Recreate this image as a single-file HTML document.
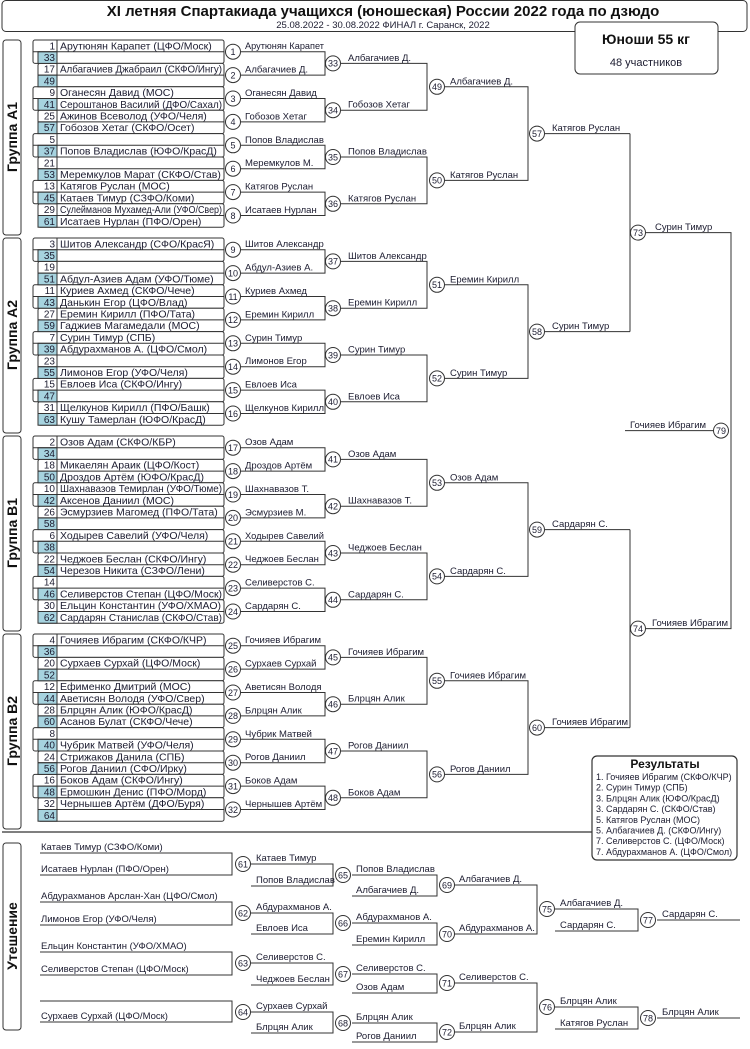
<!DOCTYPE html>
<html><head><meta charset="utf-8">
<style>
html,body{margin:0;padding:0;background:#fff;}
svg{display:block;font-family:"Liberation Sans",sans-serif;}
text{fill:#1c1c30;}
.nm{font-size:10.5px;}
.num{font-size:10px;text-anchor:end;}
.cn{font-size:9px;text-anchor:middle;}
.lb{font-size:9.5px;}
.gl{font-size:14px;font-weight:bold;text-anchor:middle;fill:#111;}
</style></head><body>
<svg id="s" width="750" height="1049" viewBox="0 0 750 1049" xmlns="http://www.w3.org/2000/svg">
<defs>
<g id="grid" fill="#fff" stroke="#333" stroke-width="1">
<rect x="3" y="0" width="18" height="195" rx="3"/>
<rect x="33" y="0" width="191" height="23.4" rx="2"/>
<rect x="38" y="23.4" width="186" height="23.4" rx="2"/>
<rect x="33" y="46.8" width="191" height="23.4" rx="2"/>
<rect x="38" y="70.2" width="186" height="23.4" rx="2"/>
<rect x="33" y="93.6" width="191" height="23.4" rx="2"/>
<rect x="38" y="117" width="186" height="23.4" rx="2"/>
<rect x="33" y="140.4" width="191" height="23.4" rx="2"/>
<rect x="38" y="163.8" width="186" height="23.4" rx="2"/>
<g fill="#a6d3df">
<rect x="38" y="11.7" width="19" height="11.7"/><rect x="38" y="35.1" width="19" height="11.7"/>
<rect x="38" y="58.5" width="19" height="11.7"/><rect x="38" y="81.9" width="19" height="11.7"/>
<rect x="38" y="105.3" width="19" height="11.7"/><rect x="38" y="128.7" width="19" height="11.7"/>
<rect x="38" y="152.1" width="19" height="11.7"/><rect x="38" y="175.5" width="19" height="11.7"/>
</g>
<path fill="none" d="M33 11.7H224M38 35.1H224M33 58.5H224M38 81.9H224M33 105.3H224M38 128.7H224M33 152.1H224M38 175.5H224M57 0V187.2"/>
<path fill="none" d="M241 11.7H325V35.1H241M241 58.5H325V81.9H241M241 105.3H325V128.7H241M241 152.1H325V175.5H241
M341 23.4H427V70.2H341M341 117H427V163.8H341M445 46.8H528V140.4H445M545 93.6H630"/>
<circle cx="233" cy="11.7" r="7.5"/><circle cx="233" cy="35.1" r="7.5"/><circle cx="233" cy="58.5" r="7.5"/><circle cx="233" cy="81.9" r="7.5"/>
<circle cx="233" cy="105.3" r="7.5"/><circle cx="233" cy="128.7" r="7.5"/><circle cx="233" cy="152.1" r="7.5"/><circle cx="233" cy="175.5" r="7.5"/>
<circle cx="333" cy="23.4" r="7.5"/><circle cx="333" cy="70.2" r="7.5"/><circle cx="333" cy="117" r="7.5"/><circle cx="333" cy="163.8" r="7.5"/>
<circle cx="437" cy="46.8" r="7.5"/><circle cx="437" cy="140.4" r="7.5"/><circle cx="537" cy="93.6" r="7.5"/>
</g>
</defs>

<rect x="2" y="0.5" width="745" height="31" rx="4" fill="#fff" stroke="#333"/>
<text x="383" y="16" text-anchor="middle" style="font-size:15px;font-weight:bold;fill:#111">XI летняя Спартакиада учащихся (юношеская) России 2022 года по дзюдо</text>
<text x="383" y="28" text-anchor="middle" style="font-size:9.5px">25.08.2022 - 30.08.2022 ФИНАЛ г. Саранск, 2022</text>
<rect x="575" y="22" width="143" height="52" rx="5" fill="#fff" stroke="#333"/>
<text x="646" y="44" text-anchor="middle" style="font-size:14px;font-weight:bold;fill:#111">Юноши 55 кг</text>
<text x="646" y="66" text-anchor="middle" style="font-size:11px">48 участников</text>

<g transform="translate(0,40)">
<use href="#grid"/>
<text class="gl" transform="translate(17,97) rotate(-90)">Группа A1</text>
<text class="num" x="55" y="9.3">1</text><text class="num" x="55" y="21">33</text><text class="num" x="55" y="32.7">17</text><text class="num" x="55" y="44.4">49</text>
<text class="num" x="55" y="56.1">9</text><text class="num" x="55" y="67.8">41</text><text class="num" x="55" y="79.5">25</text><text class="num" x="55" y="91.2">57</text>
<text class="num" x="55" y="102.9">5</text><text class="num" x="55" y="114.6">37</text><text class="num" x="55" y="126.3">21</text><text class="num" x="55" y="138">53</text>
<text class="num" x="55" y="149.7">13</text><text class="num" x="55" y="161.4">45</text><text class="num" x="55" y="173.1">29</text><text class="num" x="55" y="184.8">61</text>
<text class="nm fa" x="60" y="9.3">Арутюнян Карапет (ЦФО/Моск)</text>
<text class="nm fa" x="60" y="32.7">Албагачиев Джабраил (СКФО/Ингу)</text>
<text class="nm fa" x="60" y="56.1">Оганесян Давид (МОС)</text>
<text class="nm fa" x="60" y="67.8">Сероштанов Василий (ДФО/Сахал)</text>
<text class="nm fa" x="60" y="79.5">Ажинов Всеволод (УФО/Челя)</text>
<text class="nm fa" x="60" y="91.2">Гобозов Хетаг (СКФО/Осет)</text>
<text class="nm fa" x="60" y="114.6">Попов Владислав (ЮФО/КрасД)</text>
<text class="nm fa" x="60" y="138">Меремкулов Марат (СКФО/Став)</text>
<text class="nm fa" x="60" y="149.7">Катягов Руслан (МОС)</text>
<text class="nm fa" x="60" y="161.4">Катаев Тимур (СЗФО/Коми)</text>
<text class="nm fa" x="60" y="173.1">Сулейманов Мухамед-Али (УФО/Свер)</text>
<text class="nm fa" x="60" y="184.8">Исатаев Нурлан (ПФО/Орен)</text>
<text class="cn" x="233" y="15">1</text><text class="cn" x="233" y="38.4">2</text><text class="cn" x="233" y="61.8">3</text><text class="cn" x="233" y="85.2">4</text>
<text class="cn" x="233" y="108.6">5</text><text class="cn" x="233" y="132">6</text><text class="cn" x="233" y="155.4">7</text><text class="cn" x="233" y="178.8">8</text>
<text class="cn" x="333" y="26.7">33</text><text class="cn" x="333" y="73.5">34</text><text class="cn" x="333" y="120.3">35</text><text class="cn" x="333" y="167.1">36</text>
<text class="cn" x="437" y="50.1">49</text><text class="cn" x="437" y="143.7">50</text><text class="cn" x="537" y="96.9">57</text>
<text class="lb fb" x="245" y="9.2">Арутюнян Карапет</text><text class="lb fb" x="245" y="32.6">Албагачиев Д.</text>
<text class="lb fb" x="245" y="56">Оганесян Давид</text><text class="lb fb" x="245" y="79.4">Гобозов Хетаг</text>
<text class="lb fb" x="245" y="102.8">Попов Владислав</text><text class="lb fb" x="245" y="126.2">Меремкулов М.</text>
<text class="lb fb" x="245" y="149.6">Катягов Руслан</text><text class="lb fb" x="245" y="173">Исатаев Нурлан</text>
<text class="lb fb" x="348" y="20.9">Албагачиев Д.</text><text class="lb fb" x="348" y="67.7">Гобозов Хетаг</text>
<text class="lb fb" x="348" y="114.5">Попов Владислав</text><text class="lb fb" x="348" y="161.3">Катягов Руслан</text>
<text class="lb fb" x="450" y="44.3">Албагачиев Д.</text><text class="lb fb" x="450" y="137.9">Катягов Руслан</text>
<text class="lb fb" x="552" y="91.1">Катягов Руслан</text>
</g>

<g transform="translate(0,238)">
<use href="#grid"/>
<text class="gl" transform="translate(17,97) rotate(-90)">Группа A2</text>
<text class="num" x="55" y="9.3">3</text><text class="num" x="55" y="21">35</text><text class="num" x="55" y="32.7">19</text><text class="num" x="55" y="44.4">51</text>
<text class="num" x="55" y="56.1">11</text><text class="num" x="55" y="67.8">43</text><text class="num" x="55" y="79.5">27</text><text class="num" x="55" y="91.2">59</text>
<text class="num" x="55" y="102.9">7</text><text class="num" x="55" y="114.6">39</text><text class="num" x="55" y="126.3">23</text><text class="num" x="55" y="138">55</text>
<text class="num" x="55" y="149.7">15</text><text class="num" x="55" y="161.4">47</text><text class="num" x="55" y="173.1">31</text><text class="num" x="55" y="184.8">63</text>
<text class="nm fa" x="60" y="9.3">Шитов Александр (СФО/КрасЯ)</text>
<text class="nm fa" x="60" y="44.4">Абдул-Азиев Адам (УФО/Тюме)</text>
<text class="nm fa" x="60" y="56.1">Куриев Ахмед (СКФО/Чече)</text>
<text class="nm fa" x="60" y="67.8">Данькин Егор (ЦФО/Влад)</text>
<text class="nm fa" x="60" y="79.5">Еремин Кирилл (ПФО/Тата)</text>
<text class="nm fa" x="60" y="91.2">Гаджиев Магамедали (МОС)</text>
<text class="nm fa" x="60" y="102.9">Сурин Тимур (СПБ)</text>
<text class="nm fa" x="60" y="114.6">Абдурахманов А. (ЦФО/Смол)</text>
<text class="nm fa" x="60" y="138">Лимонов Егор (УФО/Челя)</text>
<text class="nm fa" x="60" y="149.7">Евлоев Иса (СКФО/Ингу)</text>
<text class="nm fa" x="60" y="173.1">Щелкунов Кирилл (ПФО/Башк)</text>
<text class="nm fa" x="60" y="184.8">Кушу Тамерлан (ЮФО/КрасД)</text>
<text class="cn" x="233" y="15">9</text><text class="cn" x="233" y="38.4">10</text><text class="cn" x="233" y="61.8">11</text><text class="cn" x="233" y="85.2">12</text>
<text class="cn" x="233" y="108.6">13</text><text class="cn" x="233" y="132">14</text><text class="cn" x="233" y="155.4">15</text><text class="cn" x="233" y="178.8">16</text>
<text class="cn" x="333" y="26.7">37</text><text class="cn" x="333" y="73.5">38</text><text class="cn" x="333" y="120.3">39</text><text class="cn" x="333" y="167.1">40</text>
<text class="cn" x="437" y="50.1">51</text><text class="cn" x="437" y="143.7">52</text><text class="cn" x="537" y="96.9">58</text>
<text class="lb fb" x="245" y="9.2">Шитов Александр</text><text class="lb fb" x="245" y="32.6">Абдул-Азиев А.</text>
<text class="lb fb" x="245" y="56">Куриев Ахмед</text><text class="lb fb" x="245" y="79.4">Еремин Кирилл</text>
<text class="lb fb" x="245" y="102.8">Сурин Тимур</text><text class="lb fb" x="245" y="126.2">Лимонов Егор</text>
<text class="lb fb" x="245" y="149.6">Евлоев Иса</text><text class="lb fb" x="245" y="173">Щелкунов Кирилл</text>
<text class="lb fb" x="348" y="20.9">Шитов Александр</text><text class="lb fb" x="348" y="67.7">Еремин Кирилл</text>
<text class="lb fb" x="348" y="114.5">Сурин Тимур</text><text class="lb fb" x="348" y="161.3">Евлоев Иса</text>
<text class="lb fb" x="450" y="44.3">Еремин Кирилл</text><text class="lb fb" x="450" y="137.9">Сурин Тимур</text>
<text class="lb fb" x="552" y="91.1">Сурин Тимур</text>
</g>

<g transform="translate(0,436)">
<use href="#grid"/>
<text class="gl" transform="translate(17,97) rotate(-90)">Группа B1</text>
<text class="num" x="55" y="9.3">2</text><text class="num" x="55" y="21">34</text><text class="num" x="55" y="32.7">18</text><text class="num" x="55" y="44.4">50</text>
<text class="num" x="55" y="56.1">10</text><text class="num" x="55" y="67.8">42</text><text class="num" x="55" y="79.5">26</text><text class="num" x="55" y="91.2">58</text>
<text class="num" x="55" y="102.9">6</text><text class="num" x="55" y="114.6">38</text><text class="num" x="55" y="126.3">22</text><text class="num" x="55" y="138">54</text>
<text class="num" x="55" y="149.7">14</text><text class="num" x="55" y="161.4">46</text><text class="num" x="55" y="173.1">30</text><text class="num" x="55" y="184.8">62</text>
<text class="nm fa" x="60" y="9.3">Озов Адам (СКФО/КБР)</text>
<text class="nm fa" x="60" y="32.7">Микаелян Араик (ЦФО/Кост)</text>
<text class="nm fa" x="60" y="44.4">Дроздов Артём (ЮФО/КрасД)</text>
<text class="nm fa" x="60" y="56.1">Шахнавазов Темирлан (УФО/Тюме)</text>
<text class="nm fa" x="60" y="67.8">Аксенов Даниил (МОС)</text>
<text class="nm fa" x="60" y="79.5">Эсмурзиев Магомед (ПФО/Тата)</text>
<text class="nm fa" x="60" y="102.9">Ходырев Савелий (УФО/Челя)</text>
<text class="nm fa" x="60" y="126.3">Чеджоев Беслан (СКФО/Ингу)</text>
<text class="nm fa" x="60" y="138">Черезов Никита (СЗФО/Лени)</text>
<text class="nm fa" x="60" y="161.4">Селиверстов Степан (ЦФО/Моск)</text>
<text class="nm fa" x="60" y="173.1">Ельцин Константин (УФО/ХМАО)</text>
<text class="nm fa" x="60" y="184.8">Сардарян Станислав (СКФО/Став)</text>
<text class="cn" x="233" y="15">17</text><text class="cn" x="233" y="38.4">18</text><text class="cn" x="233" y="61.8">19</text><text class="cn" x="233" y="85.2">20</text>
<text class="cn" x="233" y="108.6">21</text><text class="cn" x="233" y="132">22</text><text class="cn" x="233" y="155.4">23</text><text class="cn" x="233" y="178.8">24</text>
<text class="cn" x="333" y="26.7">41</text><text class="cn" x="333" y="73.5">42</text><text class="cn" x="333" y="120.3">43</text><text class="cn" x="333" y="167.1">44</text>
<text class="cn" x="437" y="50.1">53</text><text class="cn" x="437" y="143.7">54</text><text class="cn" x="537" y="96.9">59</text>
<text class="lb fb" x="245" y="9.2">Озов Адам</text><text class="lb fb" x="245" y="32.6">Дроздов Артём</text>
<text class="lb fb" x="245" y="56">Шахнавазов Т.</text><text class="lb fb" x="245" y="79.4">Эсмурзиев М.</text>
<text class="lb fb" x="245" y="102.8">Ходырев Савелий</text><text class="lb fb" x="245" y="126.2">Чеджоев Беслан</text>
<text class="lb fb" x="245" y="149.6">Селиверстов С.</text><text class="lb fb" x="245" y="173">Сардарян С.</text>
<text class="lb fb" x="348" y="20.9">Озов Адам</text><text class="lb fb" x="348" y="67.7">Шахнавазов Т.</text>
<text class="lb fb" x="348" y="114.5">Чеджоев Беслан</text><text class="lb fb" x="348" y="161.3">Сардарян С.</text>
<text class="lb fb" x="450" y="44.3">Озов Адам</text><text class="lb fb" x="450" y="137.9">Сардарян С.</text>
<text class="lb fb" x="552" y="91.1">Сардарян С.</text>
</g>

<g transform="translate(0,634)">
<use href="#grid"/>
<text class="gl" transform="translate(17,97) rotate(-90)">Группа B2</text>
<text class="num" x="55" y="9.3">4</text><text class="num" x="55" y="21">36</text><text class="num" x="55" y="32.7">20</text><text class="num" x="55" y="44.4">52</text>
<text class="num" x="55" y="56.1">12</text><text class="num" x="55" y="67.8">44</text><text class="num" x="55" y="79.5">28</text><text class="num" x="55" y="91.2">60</text>
<text class="num" x="55" y="102.9">8</text><text class="num" x="55" y="114.6">40</text><text class="num" x="55" y="126.3">24</text><text class="num" x="55" y="138">56</text>
<text class="num" x="55" y="149.7">16</text><text class="num" x="55" y="161.4">48</text><text class="num" x="55" y="173.1">32</text><text class="num" x="55" y="184.8">64</text>
<text class="nm fa" x="60" y="9.3">Гочияев Ибрагим (СКФО/КЧР)</text>
<text class="nm fa" x="60" y="32.7">Сурхаев Сурхай (ЦФО/Моск)</text>
<text class="nm fa" x="60" y="56.1">Ефименко Дмитрий (МОС)</text>
<text class="nm fa" x="60" y="67.8">Аветисян Володя (УФО/Свер)</text>
<text class="nm fa" x="60" y="79.5">Блрцян Алик (ЮФО/КрасД)</text>
<text class="nm fa" x="60" y="91.2">Асанов Булат (СКФО/Чече)</text>
<text class="nm fa" x="60" y="114.6">Чубрик Матвей (УФО/Челя)</text>
<text class="nm fa" x="60" y="126.3">Стрижаков Данила (СПБ)</text>
<text class="nm fa" x="60" y="138">Рогов Даниил (СФО/Ирку)</text>
<text class="nm fa" x="60" y="149.7">Боков Адам (СКФО/Ингу)</text>
<text class="nm fa" x="60" y="161.4">Ермошкин Денис (ПФО/Морд)</text>
<text class="nm fa" x="60" y="173.1">Чернышев Артём (ДФО/Буря)</text>
<text class="cn" x="233" y="15">25</text><text class="cn" x="233" y="38.4">26</text><text class="cn" x="233" y="61.8">27</text><text class="cn" x="233" y="85.2">28</text>
<text class="cn" x="233" y="108.6">29</text><text class="cn" x="233" y="132">30</text><text class="cn" x="233" y="155.4">31</text><text class="cn" x="233" y="178.8">32</text>
<text class="cn" x="333" y="26.7">45</text><text class="cn" x="333" y="73.5">46</text><text class="cn" x="333" y="120.3">47</text><text class="cn" x="333" y="167.1">48</text>
<text class="cn" x="437" y="50.1">55</text><text class="cn" x="437" y="143.7">56</text><text class="cn" x="537" y="96.9">60</text>
<text class="lb fb" x="245" y="9.2">Гочияев Ибрагим</text><text class="lb fb" x="245" y="32.6">Сурхаев Сурхай</text>
<text class="lb fb" x="245" y="56">Аветисян Володя</text><text class="lb fb" x="245" y="79.4">Блрцян Алик</text>
<text class="lb fb" x="245" y="102.8">Чубрик Матвей</text><text class="lb fb" x="245" y="126.2">Рогов Даниил</text>
<text class="lb fb" x="245" y="149.6">Боков Адам</text><text class="lb fb" x="245" y="173">Чернышев Артём</text>
<text class="lb fb" x="348" y="20.9">Гочияев Ибрагим</text><text class="lb fb" x="348" y="67.7">Блрцян Алик</text>
<text class="lb fb" x="348" y="114.5">Рогов Даниил</text><text class="lb fb" x="348" y="161.3">Боков Адам</text>
<text class="lb fb" x="450" y="44.3">Гочияев Ибрагим</text><text class="lb fb" x="450" y="137.9">Рогов Даниил</text>
<text class="lb fb" x="552" y="91.1">Гочияев Ибрагим</text>
</g>

<g fill="#fff" stroke="#333" stroke-width="1">
<path fill="none" d="M630 133.6V331.6M630 529.6V727.6M646 232.6H731V628.6H646M625 430.6H713"/>
<circle cx="638" cy="232.6" r="7.5"/><circle cx="638" cy="628.6" r="7.5"/><circle cx="721" cy="430.6" r="7.5"/>
</g>
<text class="cn" x="638" y="235.9">73</text><text class="cn" x="638" y="631.9">74</text><text class="cn" x="721" y="433.9">79</text>
<text class="lb fb" x="655" y="230">Сурин Тимур</text>
<text class="lb fb" x="652" y="626">Гочияев Ибрагим</text>
<text class="lb fb" x="630" y="428">Гочияев Ибрагим</text>

<path d="M2 832H592" stroke="#555" stroke-width="1.5" fill="none"/>
<rect x="592" y="756" width="145" height="104" rx="5" fill="#fff" stroke="#333" stroke-width="1.2"/>
<text x="665" y="768" text-anchor="middle" style="font-size:12px;font-weight:bold;fill:#111">Результаты</text>
<g style="font-size:9px">
<text class="fr" x="596" y="780">1. Гочияев Ибрагим (СКФО/КЧР)</text>
<text class="fr" x="596" y="790.7">2. Сурин Тимур (СПБ)</text>
<text class="fr" x="596" y="801.4">3. Блрцян Алик (ЮФО/КрасД)</text>
<text class="fr" x="596" y="812.1">3. Сардарян С. (СКФО/Став)</text>
<text class="fr" x="596" y="822.8">5. Катягов Руслан (МОС)</text>
<text class="fr" x="596" y="833.5">5. Албагачиев Д. (СКФО/Ингу)</text>
<text class="fr" x="596" y="844.2">7. Селиверстов С. (ЦФО/Моск)</text>
<text class="fr" x="596" y="855">7. Абдурахманов А. (ЦФО/Смол)</text>
</g>

<g fill="#fff" stroke="#333" stroke-width="1">
<rect x="3" y="843" width="18" height="187" rx="3"/>
<path fill="none" d="M40 853H232V875H40M40 902H232V925H40M40 952H232V975H40M40 1001H232V1022H40
M251 864H333V886H251M251 913H333V934H251M251 963H333V985H251M251 1012H333V1033H251
M352 875H437V896H352M352 923H437V945H352M352 974H437V993H352M352 1023H437V1042H352
M455 885H537V934H455M455 983H537V1032H455
M555 909H638V931H555M555 1007H638V1029H555M657 920H740M657 1018H740"/>
<circle cx="243" cy="864" r="7.5"/><circle cx="243" cy="913" r="7.5"/><circle cx="243" cy="963" r="7.5"/><circle cx="243" cy="1012" r="7.5"/>
<circle cx="343" cy="875" r="7.5"/><circle cx="343" cy="923" r="7.5"/><circle cx="343" cy="974" r="7.5"/><circle cx="343" cy="1023" r="7.5"/>
<circle cx="447" cy="885" r="7.5"/><circle cx="447" cy="934" r="7.5"/><circle cx="447" cy="983" r="7.5"/><circle cx="447" cy="1032" r="7.5"/>
<circle cx="547" cy="909" r="7.5"/><circle cx="547" cy="1007" r="7.5"/>
<circle cx="648" cy="920" r="7.5"/><circle cx="648" cy="1018" r="7.5"/>
</g>
<text class="gl" transform="translate(17,936) rotate(-90)">Утешение</text>
<g>
<text class="cn" x="243" y="867.3">61</text><text class="cn" x="243" y="916.3">62</text><text class="cn" x="243" y="966.3">63</text><text class="cn" x="243" y="1015.3">64</text>
<text class="cn" x="343" y="878.3">65</text><text class="cn" x="343" y="926.3">66</text><text class="cn" x="343" y="977.3">67</text><text class="cn" x="343" y="1026.3">68</text>
<text class="cn" x="447" y="888.3">69</text><text class="cn" x="447" y="937.3">70</text><text class="cn" x="447" y="986.3">71</text><text class="cn" x="447" y="1035.3">72</text>
<text class="cn" x="547" y="912.3">75</text><text class="cn" x="547" y="1010.3">76</text>
<text class="cn" x="648" y="923.3">77</text><text class="cn" x="648" y="1021.3">78</text>
</g>
<text class="lb fc" x="41" y="850">Катаев Тимур (СЗФО/Коми)</text>
<text class="lb fc" x="41" y="872">Исатаев Нурлан (ПФО/Орен)</text>
<text class="lb fc" x="41" y="899">Абдурахманов Арслан-Хан (ЦФО/Смол)</text>
<text class="lb fc" x="41" y="922">Лимонов Егор (УФО/Челя)</text>
<text class="lb fc" x="41" y="949">Ельцин Константин (УФО/ХМАО)</text>
<text class="lb fc" x="41" y="972">Селиверстов Степан (ЦФО/Моск)</text>
<text class="lb fc" x="41" y="1019">Сурхаев Сурхай (ЦФО/Моск)</text>
<text class="lb fb" x="256" y="861">Катаев Тимур</text>
<text class="lb fb" x="256" y="883">Попов Владислав</text>
<text class="lb fb" x="256" y="910">Абдурахманов А.</text>
<text class="lb fb" x="256" y="931">Евлоев Иса</text>
<text class="lb fb" x="256" y="960">Селиверстов С.</text>
<text class="lb fb" x="256" y="982">Чеджоев Беслан</text>
<text class="lb fb" x="256" y="1009">Сурхаев Сурхай</text>
<text class="lb fb" x="256" y="1030">Блрцян Алик</text>
<text class="lb fb" x="356" y="872">Попов Владислав</text>
<text class="lb fb" x="356" y="893">Албагачиев Д.</text>
<text class="lb fb" x="356" y="920">Абдурахманов А.</text>
<text class="lb fb" x="356" y="942">Еремин Кирилл</text>
<text class="lb fb" x="356" y="971">Селиверстов С.</text>
<text class="lb fb" x="356" y="990">Озов Адам</text>
<text class="lb fb" x="356" y="1020">Блрцян Алик</text>
<text class="lb fb" x="356" y="1039">Рогов Даниил</text>
<text class="lb fb" x="459" y="882">Албагачиев Д.</text>
<text class="lb fb" x="459" y="931">Абдурахманов А.</text>
<text class="lb fb" x="459" y="980">Селиверстов С.</text>
<text class="lb fb" x="459" y="1029">Блрцян Алик</text>
<text class="lb fb" x="560" y="906">Албагачиев Д.</text>
<text class="lb fb" x="560" y="928">Сардарян С.</text>
<text class="lb fb" x="560" y="1004">Блрцян Алик</text>
<text class="lb fb" x="560" y="1026">Катягов Руслан</text>
<text class="lb fb" x="662" y="917">Сардарян С.</text>
<text class="lb fb" x="662" y="1015">Блрцян Алик</text>
</svg>
<script>
(function(){
  function fit(sel,max){
    var els=document.querySelectorAll(sel);
    for(var i=0;i<els.length;i++){
      try{var w=els[i].getComputedTextLength();
      if(w>max){els[i].setAttribute('textLength',max);els[i].setAttribute('lengthAdjust','spacingAndGlyphs');}}catch(e){}
    }
  }
  fit('.fa',162);fit('.fb',79);fit('.fc',188);fit('.fr',139);
})();
</script>
</body></html>
